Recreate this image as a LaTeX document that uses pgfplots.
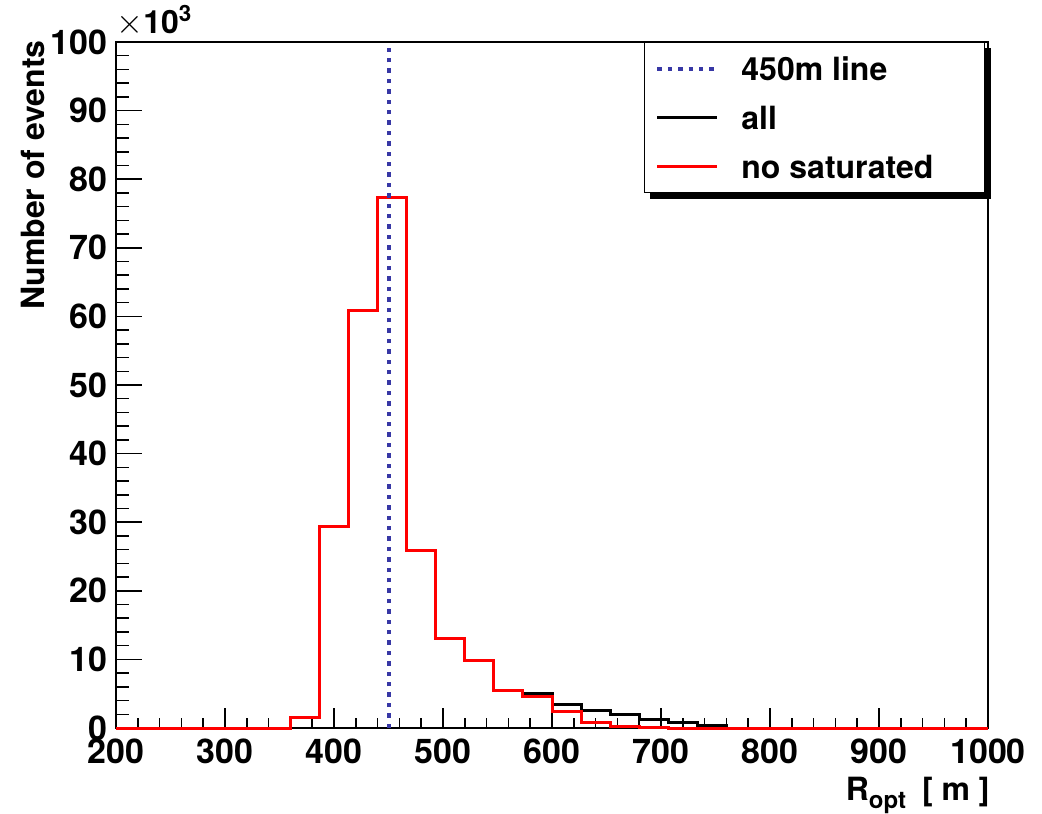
\documentclass[border=0pt]{standalone}
\usepackage{fontspec}
\setmainfont{TeX Gyre Heros}
\usepackage{pgfplots}
\pgfplotsset{compat=1.18}
\usetikzlibrary{backgrounds}
\definecolor{lineblue}{RGB}{55,55,165}

\begin{document}
\begin{tikzpicture}
\begin{axis}[
  name=ax,
  scale only axis, width=436pt, height=343pt,
  xmin=200, xmax=1000, ymin=0, ymax=100,
  xtick={200,300,...,1000}, ytick={0,10,...,100},
  minor tick num=4,
  tick align=inside, xtick pos=bottom, ytick pos=left,
  xtick style={black, line width=0.75pt, /pgfplots/major tick length=10pt, /pgfplots/minor tick length=5pt},
  ytick style={black, line width=0.75pt, /pgfplots/major tick length=13pt, /pgfplots/minor tick length=6.5pt},
  axis line style={line width=0.75pt},
  font=\fontsize{17}{20}\selectfont\bfseries,
  /pgf/number format/assume math mode=true,
  /pgf/number format/1000 sep={},
  scaled ticks=false,
  xticklabel style={inner sep=0pt, yshift=-5pt},
  yticklabel style={inner sep=0pt, xshift=-4pt},
  clip=false,
  legend cell align=left,
  legend image code/.code={\draw[#1] (0pt,0pt) -- (30pt,0pt);},
  legend style={name=leg, at={(rel axis cs:0.9966,1)}, anchor=north east,
    draw=black, line width=0.6pt, fill=white,
    font=\fontsize{16}{16}\selectfont\bfseries,
    inner xsep=5.5pt, inner ysep=7pt, row sep=12.5pt,
    nodes={inner sep=0pt, text height=12pt, text depth=0pt},
    /tikz/every odd column/.append style={column sep=11pt}},
]
\addlegendimage{lineblue, line width=2pt, dash pattern=on 2.2pt off 3pt}
\addlegendentry{\makebox[116pt][l]{450m line}}

% all events (x10^3), left bin edges
\addplot[black, line width=1.5pt, const plot mark left] coordinates {
(200,0) (226.67,0) (253.33,0) (280,0) (306.67,0) (333.33,0)
(360,1.5) (386.67,29.4) (413.33,60.8) (440,77.4) (466.67,25.9)
(493.33,13.0) (520,9.8) (546.67,5.4) (573.33,5.0) (600,3.5)
(626.67,2.6) (653.33,1.9) (680,1.2) (706.67,0.8) (733.33,0.4)
(760,0) (786.67,0) (813.33,0) (840,0) (866.67,0) (893.33,0)
(920,0) (946.67,0) (973.33,0) (1000,0)};
\addlegendentry{\makebox[116pt][l]{all}}

% no saturated
\addplot[red, line width=1.5pt, const plot mark left] coordinates {
(200,0) (226.67,0) (253.33,0) (280,0) (306.67,0) (333.33,0)
(360,1.5) (386.67,29.4) (413.33,60.8) (440,77.4) (466.67,25.9)
(493.33,13.0) (520,9.8) (546.67,5.4) (573.33,4.6) (600,2.4)
(626.67,0.8) (653.33,0.15) (680,0.03) (706.67,0) (733.33,0)
(760,0) (786.67,0) (813.33,0) (840,0) (866.67,0) (893.33,0)
(920,0) (946.67,0) (973.33,0) (1000,0)};
\addlegendentry{\makebox[116pt][l]{no saturated}}

\addplot[lineblue, line width=2pt, dash pattern=on 2.2pt off 3pt, forget plot] coordinates {(450,0) (450,100)};
\end{axis}

\begin{pgfonlayer}{background}
\fill[black] ([shift={(3pt,-3pt)}]leg.south west) rectangle ([shift={(3pt,-3pt)}]leg.north east);
\end{pgfonlayer}

\node[anchor=south west, inner sep=0pt, font=\fontsize{16}{16}\selectfont\bfseries] at ([yshift=2.5pt]ax.north west) {$\times$10\textsuperscript{3}};
\node[rotate=90, anchor=south east, inner sep=0pt, font=\fontsize{16}{16}\selectfont\bfseries] at ([xshift=-35.5pt, yshift=1pt]ax.north west) {Number of events};
\node[anchor=base east, inner sep=0pt, font=\fontsize{16}{16}\selectfont\bfseries] at ([xshift=1pt, yshift=-36pt]ax.south east) {R\raisebox{-4pt}{\fontsize{12}{12}\selectfont opt}\hspace{8pt}[ m ]};
\path ([shift={(-58pt,-42.5pt)}]ax.south west) rectangle ([shift={(27pt,21pt)}]ax.north east);
\end{tikzpicture}
\end{document}
